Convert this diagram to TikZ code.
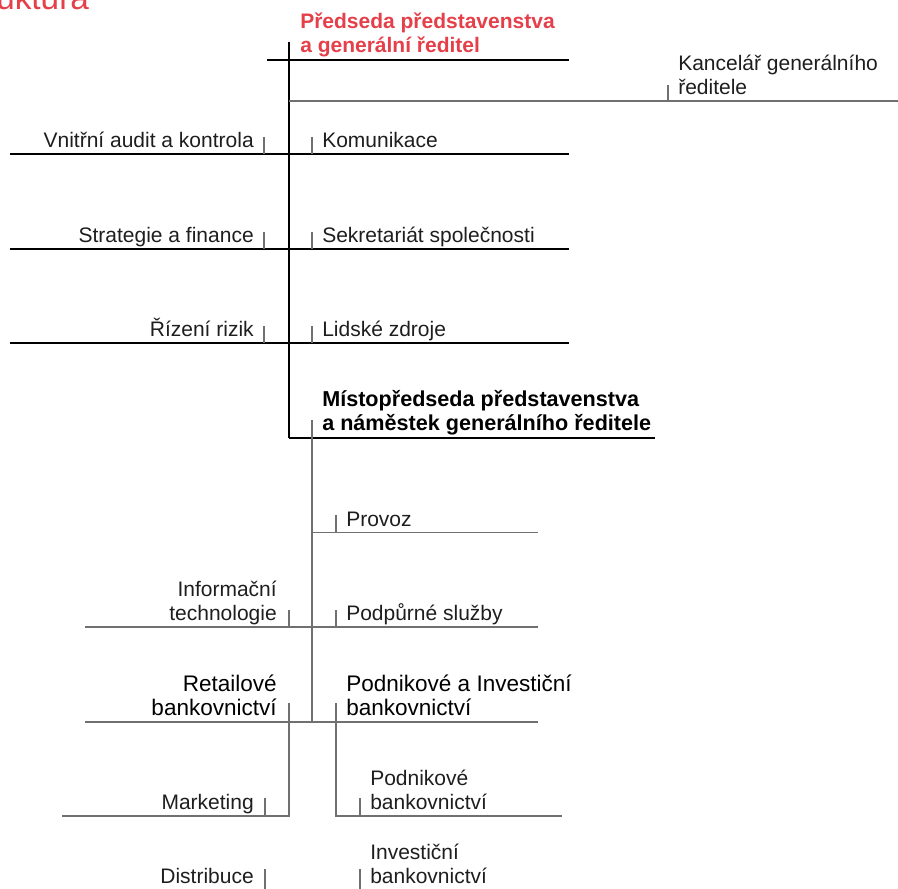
\documentclass[tikz,border=0pt]{standalone}
\usepackage{fontspec}
\setmainfont{Liberation Sans}
\definecolor{kbred}{RGB}{229,64,74}
\definecolor{linegray}{RGB}{112,112,112}
\definecolor{txtc}{RGB}{30,30,30}
\newcommand{\mylines}[2]{\begin{tabular}[b]{@{}#1@{}}#2\end{tabular}}
\begin{document}
\begin{tikzpicture}[x=0.75pt,y=-0.75pt,
  lbl/.style={inner sep=0pt, font=\fontsize{15.75}{18}\selectfont, text=txtc},
  lblL/.style={lbl, anchor=base east},
  lblR/.style={lbl, anchor=base west},
  headR/.style={lblR, font=\fontsize{15.75}{18}\selectfont\bfseries},
  bigL/.style={lblL, text=black, font=\fontsize{16.9}{18}\selectfont},
  bigR/.style={lblR, text=black, font=\fontsize{16.9}{18}\selectfont},
  blk/.style={draw=black, line width=0.9pt},
  gry/.style={draw=linegray, line width=1.1pt},
  tck/.style={draw=linegray, line width=1.1pt},
]
\useasboundingbox (0,0) rectangle (898,888);

% title (cut off at the page edge, as in the reference)
\node[anchor=base west, inner sep=0pt, text=kbred, font=\fontsize{25}{28}\selectfont] (title) at (-4,10) {uktura};

% ---------- top level ----------
\node[headR, text=kbred] (ceo) at (300,52.5) {\mylines{l}{Předseda představenstva\\a generální ředitel}};
\coordinate (v1top) at (289,42);
\coordinate (v1bot) at (289,438);
\coordinate (cbL) at (267,60);
\coordinate (cbR) at (569,60);
\draw[blk] (v1top) -- (v1bot);
\draw[blk] (cbL) -- (cbR);

% Kancelar
\coordinate (kA) at (289,101);
\coordinate (kB) at (898,101);
\draw[gry] (kA) -- (kB);
\draw[tck] (668,85) -- (668,101);
\node[lblR] (kanc) at (678,95) {\mylines{l}{Kancelář generálního\\ředitele}};

% rows
\foreach \y/\ln/\rn/\lt/\rt in {154/r1L/r1R/Vnitřní audit a kontrola/Komunikace,
                                249/r2L/r2R/Strategie a finance/Sekretariát společnosti,
                                343/r3L/r3R/Řízení rizik/Lidské zdroje}{
  \coordinate (\ln) at (10,\y);
  \coordinate (\rn) at (569,\y);
  \draw[blk] (\ln) -- (\rn);
  \draw[tck] (264,\y-17) -- (264,\y);
  \draw[tck] (312,\y-17) -- (312,\y);
  \node[lblL] (\ln t) at (254,\y-6.5) {\lt};
  \node[lblR] (\rn t) at (322,\y-6.5) {\rt};
}

% ---------- deputy ----------
\node[headR, text=black, font=\fontsize{16.2}{18}\selectfont\bfseries] (dep) at (322,430) {\mylines{l}{Místopředseda představenstva\\a náměstek generálního ředitele}};
\coordinate (dB) at (655,438);
\draw[blk] (v1bot) -- (dB);
\coordinate (v2top) at (312,420);
\coordinate (v2bot) at (312,722);
\draw[gry] (v2top) -- (v2bot);

% Provoz
\coordinate (pA) at (312,532.5);
\coordinate (pB) at (538,532.5);
\draw[gry] (pA) -- (pB);
\draw[tck] (336,515) -- (336,532.5);
\node[lblR] (provoz) at (346,526) {Provoz};

% Podpurne / IT
\coordinate (sA) at (85,627);
\coordinate (sB) at (538,627);
\draw[gry] (sA) -- (sB);
\draw[tck] (289,610) -- (289,627);
\draw[tck] (336,610) -- (336,627);
\node[lblL] (it) at (277,620.5) {\mylines{r}{Informační\\technologie}};
\node[lblR] (podp) at (346,620.5) {Podpůrné služby};

% Retail / Corporate
\coordinate (bA) at (85,722);
\coordinate (bB) at (538,722);
\draw[gry] (bA) -- (bB);
\node[bigL] (retail) at (277,715.5) {\mylines{r}{Retailové\\bankovnictví}};
\node[bigR] (cib) at (346,715.5) {\mylines{l}{Podnikové a Investiční\\bankovnictví}};

% retail subtree
\coordinate (lvTop) at (289,703);
\coordinate (lvBot) at (289,816);
\coordinate (lvEnd) at (62,816);
\draw[gry] (lvTop) -- (lvBot) -- (lvEnd);
\draw[tck] (265,798) -- (265,816);
\node[lblL] (mkt) at (254,809.5) {Marketing};
\draw[tck] (265,869) -- (265,890);
\node[lblL] (distr) at (254,883.5) {Distribuce};

% corporate subtree
\coordinate (rvTop) at (336,703);
\coordinate (rvBot) at (336,816);
\coordinate (rvEnd) at (562,816);
\draw[gry] (rvTop) -- (rvBot) -- (rvEnd);
\draw[tck] (360,798) -- (360,816);
\node[lblR] (corp) at (370,809.5) {\mylines{l}{Podnikové\\bankovnictví}};
\draw[tck] (360,869) -- (360,890);
\node[lblR] (inv) at (370,883.5) {\mylines{l}{Investiční\\bankovnictví}};
\end{tikzpicture}
\end{document}
